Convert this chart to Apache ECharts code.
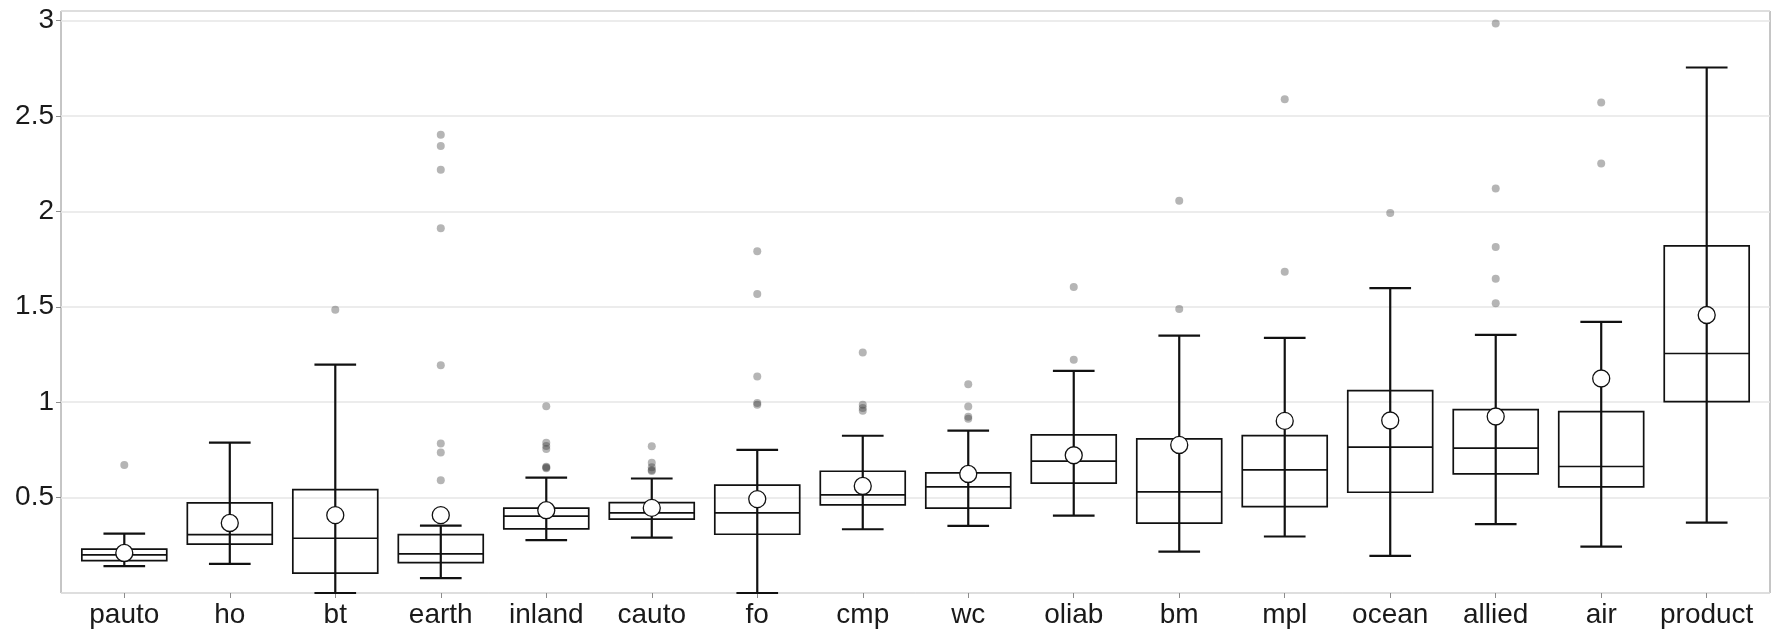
<!DOCTYPE html>
<html>
<head>
<meta charset="utf-8">
<script src="https://cdn.jsdelivr.net/npm/echarts@6/dist/echarts.min.js"></script>
<style>
html,body{margin:0;padding:0;background:#fff;}
#c{width:1771px;height:630px;}
</style>
</head>
<body>
<div id="c"></div>
<script>
const categories = ["pauto","ho","bt","earth","inland","cauto","fo","cmp","wc","oliab","bm","mpl","ocean","allied","air","product"];
const lowerWhisker = [0.141,0.153,0.0,0.078,0.277,0.290,0.0,0.334,0.352,0.406,0.217,0.296,0.195,0.361,0.243,0.369];
const q1 =           [0.170,0.256,0.104,0.159,0.336,0.387,0.308,0.462,0.445,0.576,0.366,0.453,0.528,0.624,0.556,1.003];
const median =       [0.200,0.306,0.287,0.205,0.403,0.420,0.420,0.514,0.556,0.691,0.530,0.645,0.764,0.759,0.663,1.255];
const q3 =           [0.230,0.472,0.542,0.306,0.445,0.474,0.565,0.638,0.630,0.829,0.808,0.825,1.061,0.961,0.951,1.819];
const upperWhisker = [0.311,0.788,1.197,0.353,0.605,0.600,0.750,0.824,0.851,1.164,1.349,1.337,1.598,1.353,1.421,2.754];
const means =        [0.210,0.367,0.408,0.408,0.434,0.446,0.492,0.561,0.624,0.722,0.776,0.902,0.904,0.925,1.124,1.457];
const outliers = {
  pauto: [0.671],
  ho: [],
  bt: [1.484],
  earth: [2.402,2.343,2.218,1.912,1.194,0.783,0.736,0.591],
  inland: [0.979,0.788,0.771,0.755,0.662,0.658,0.654],
  cauto: [0.769,0.683,0.659,0.645,0.640],
  fo: [1.791,1.567,1.134,0.996,0.987],
  cmp: [1.260,0.986,0.970,0.955],
  wc: [1.094,0.977,0.923,0.913],
  oliab: [1.604,1.222],
  bm: [2.055,1.488],
  mpl: [2.588,1.683],
  ocean: [1.991],
  allied: [2.984,2.120,1.813,1.647,1.518],
  air: [2.571,2.251],
  product: []
};
const yTicks = [0.5,1,1.5,2,2.5,3];

const FONT = "'Liberation Sans',Arial,sans-serif";
const idx = categories.map((_, i) => i);
const boxData = categories.map((c, i) => [i, lowerWhisker[i], q1[i], median[i], q3[i], upperWhisker[i]]);
const meanData = categories.map((c, i) => [i, means[i]]);
const outData = [];
categories.forEach((c, i) => outliers[c].forEach(v => outData.push([i, v])));

const chart = echarts.init(document.getElementById('c'), null, {renderer: 'canvas'});
chart.setOption({
  animation: false,
  backgroundColor: '#fff',
  grid: {left: 61, right: 1, top: 11, bottom: 37, show: true, borderColor: '#8c8c8c', borderWidth: 1, backgroundColor: 'transparent'},
  xAxis: {
    type: 'value', min: -0.6, max: 15.6,
    axisLine: {show: false, onZero: false},
    splitLine: {show: false},
    axisTick: {show: true, customValues: idx, length: 5, lineStyle: {color: '#8c8c8c', width: 1}},
    axisLabel: {customValues: idx, formatter: v => categories[Math.round(v)] || '', color: '#1a1a1a', fontSize: 28, fontFamily: FONT, margin: 8}
  },
  yAxis: {
    type: 'value', min: 0, max: 3.05, interval: 0.5,
    axisLine: {show: false, onZero: false},
    splitLine: {show: true, lineStyle: {color: '#e6e6e6', width: 1.5}},
    axisTick: {show: true, length: 5, lineStyle: {color: '#8c8c8c', width: 1}},
    axisLabel: {showMinLabel: false, showMaxLabel: false, formatter: v => (yTicks.indexOf(Math.round(v*100)/100) >= 0 ? String(Math.round(v*100)/100) : ''), color: '#1a1a1a', fontSize: 28, fontFamily: FONT, margin: 7}
  },
  series: [
    {
      type: 'custom',
      clip: false,
      z: 2,
      data: boxData,
      renderItem: function (params, api) {
        const i = api.value(0);
        const lo = api.coord([i, api.value(1)]);
        const b1 = api.coord([i, api.value(2)]);
        const md = api.coord([i, api.value(3)]);
        const b3 = api.coord([i, api.value(4)]);
        const hi = api.coord([i, api.value(5)]);
        const bw = api.size([0.805, 0])[0];
        const cw = api.size([0.395, 0])[0];
        const x = lo[0];
        const ws = {stroke: '#111', lineWidth: 2.2, fill: null};
        const bs = {stroke: '#111', lineWidth: 1.7, fill: null};
        return {
          type: 'group',
          children: [
            {type: 'line', shape: {x1: x, y1: lo[1], x2: x, y2: hi[1]}, style: ws},
            {type: 'line', shape: {x1: x - cw/2, y1: lo[1], x2: x + cw/2, y2: lo[1]}, style: ws},
            {type: 'line', shape: {x1: x - cw/2, y1: hi[1], x2: x + cw/2, y2: hi[1]}, style: ws},
            {type: 'rect', shape: {x: x - bw/2, y: b3[1], width: bw, height: b1[1] - b3[1]}, style: bs},
            {type: 'line', shape: {x1: x - bw/2, y1: md[1], x2: x + bw/2, y2: md[1]}, style: bs}
          ]
        };
      }
    },
    {
      type: 'scatter',
      z: 3,
      data: outData,
      symbol: 'circle',
      symbolSize: 8,
      itemStyle: {color: 'rgba(50,50,50,0.45)', borderWidth: 0},
      emphasis: {disabled: true}
    },
    {
      type: 'scatter',
      z: 4,
      data: meanData,
      symbol: 'circle',
      symbolSize: 17,
      itemStyle: {color: '#ffffff', borderColor: '#111', borderWidth: 1.3, opacity: 1},
      emphasis: {disabled: true}
    }
  ]
});
</script>
</body>
</html>
